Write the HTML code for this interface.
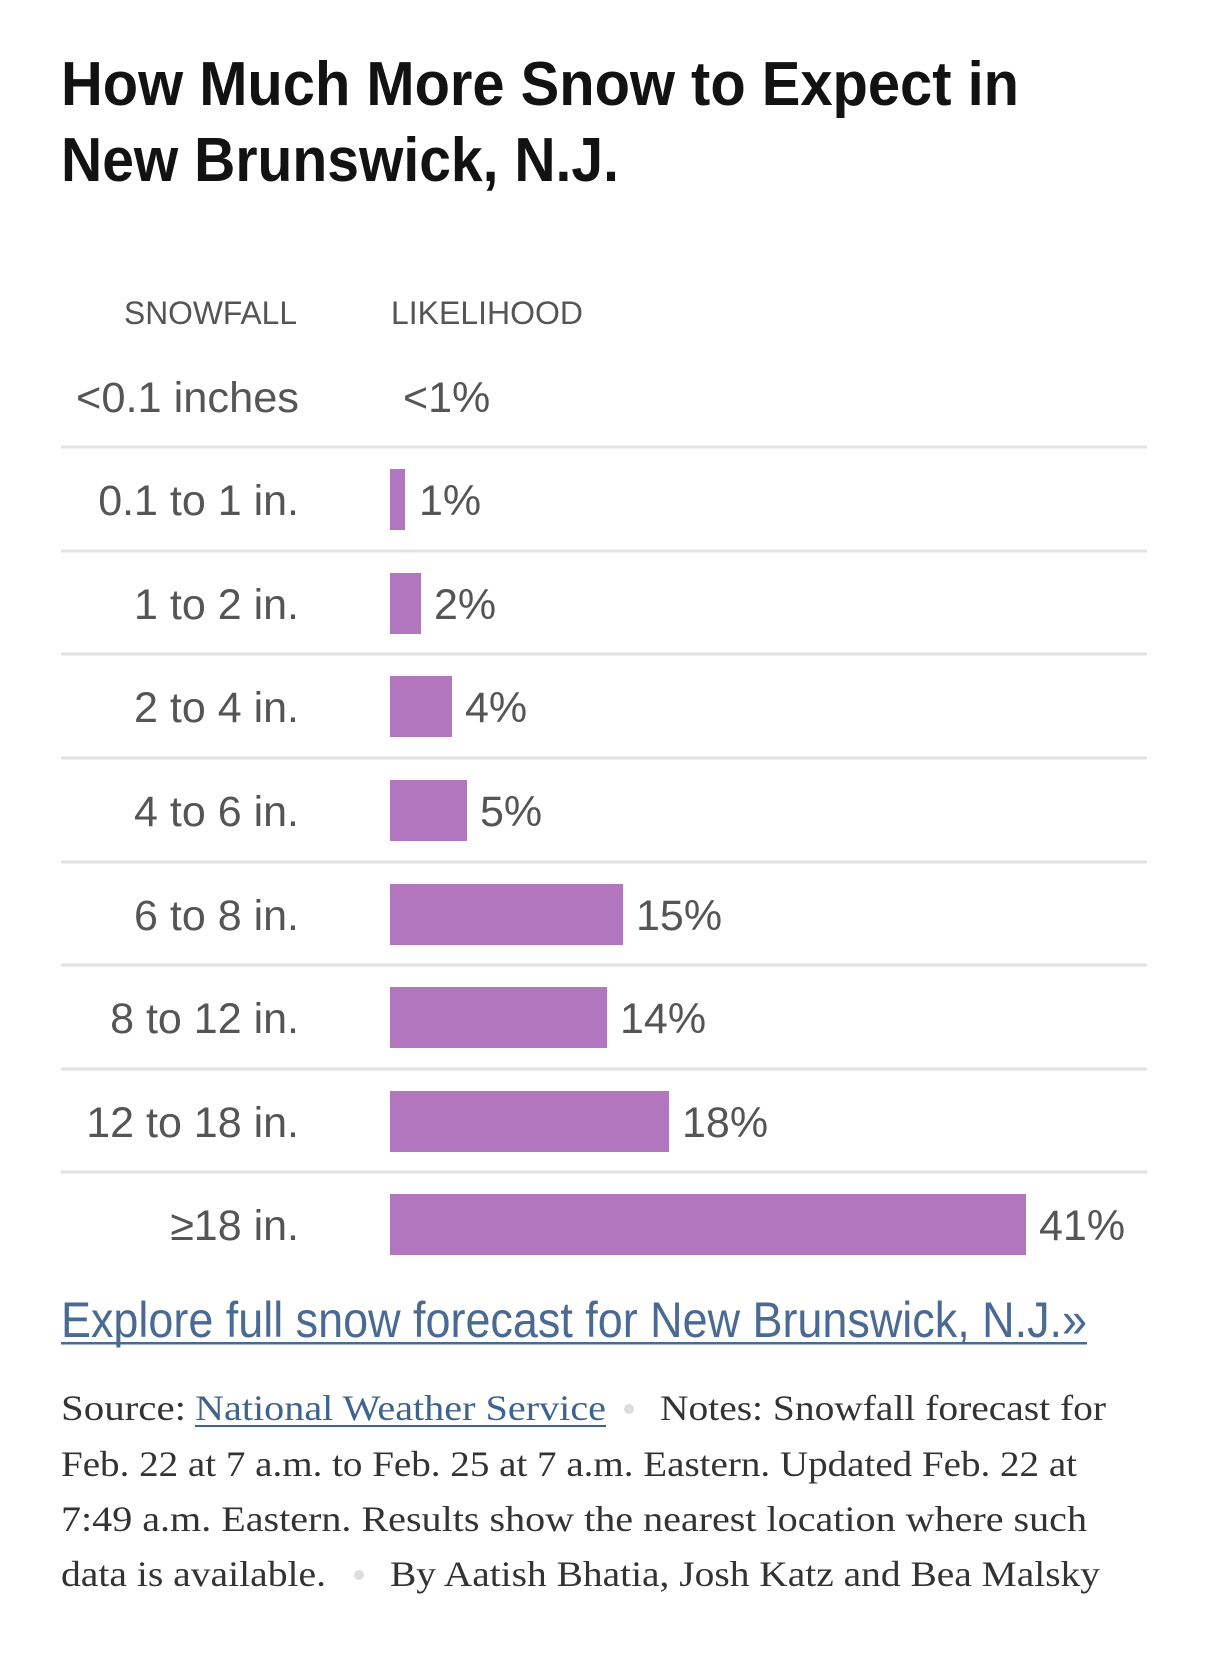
<!DOCTYPE html>
<html><head><meta charset="utf-8"><style>html,body{margin:0;padding:0;background:#fff}svg{display:block}</style></head>
<body>
<svg width="1206" height="1657" viewBox="0 0 1206 1657" xmlns="http://www.w3.org/2000/svg">
<rect width="1206" height="1657" fill="#fff"/>
<g font-family="Liberation Sans, Arial, sans-serif" font-weight="bold" font-size="62" fill="#121212">
<text x="61" y="105" textLength="958" lengthAdjust="spacingAndGlyphs">How Much More Snow to Expect in</text>
<text x="61" y="181" textLength="558" lengthAdjust="spacingAndGlyphs">New Brunswick, N.J.</text>
</g>
<g font-family="Liberation Sans, Arial, sans-serif" font-size="32" fill="#555">
<text x="124" y="324" textLength="173" lengthAdjust="spacingAndGlyphs">SNOWFALL</text>
<text x="391" y="324" textLength="192" lengthAdjust="spacingAndGlyphs">LIKELIHOOD</text>
</g>
<g stroke="#e2e2e2" stroke-width="3">
<line x1="61" x2="1147" y1="447" y2="447"/>
<line x1="61" x2="1147" y1="551" y2="551"/>
<line x1="61" x2="1147" y1="654" y2="654"/>
<line x1="61" x2="1147" y1="758" y2="758"/>
<line x1="61" x2="1147" y1="862" y2="862"/>
<line x1="61" x2="1147" y1="965" y2="965"/>
<line x1="61" x2="1147" y1="1069" y2="1069"/>
<line x1="61" x2="1147" y1="1172" y2="1172"/>
</g>
<g fill="#b276be">
<rect x="390" y="469" width="15" height="61"/>
<rect x="390" y="573" width="31" height="61"/>
<rect x="390" y="676" width="62" height="61"/>
<rect x="390" y="780" width="77" height="61"/>
<rect x="390" y="884" width="233" height="61"/>
<rect x="390" y="987" width="217" height="61"/>
<rect x="390" y="1091" width="279" height="61"/>
<rect x="390" y="1194" width="636" height="61"/>
</g>
<g font-family="Liberation Sans, Arial, sans-serif" font-size="43" fill="#555" text-anchor="end">
<text x="299" y="412" textLength="223" lengthAdjust="spacingAndGlyphs">&lt;0.1 inches</text>
<text x="299" y="515">0.1 to 1 in.</text>
<text x="299" y="619">1 to 2 in.</text>
<text x="299" y="722">2 to 4 in.</text>
<text x="299" y="826">4 to 6 in.</text>
<text x="299" y="930">6 to 8 in.</text>
<text x="299" y="1033">8 to 12 in.</text>
<text x="299" y="1137">12 to 18 in.</text>
<text x="299" y="1240">≥18 in.</text>
</g>
<g font-family="Liberation Sans, Arial, sans-serif" font-size="43" fill="#555">
<text x="403" y="412">&lt;1%</text>
<text x="419" y="515">1%</text>
<text x="434" y="619">2%</text>
<text x="465" y="722">4%</text>
<text x="480" y="826">5%</text>
<text x="636" y="930">15%</text>
<text x="620" y="1033">14%</text>
<text x="682" y="1137">18%</text>
<text x="1039" y="1240">41%</text>
</g>
<text x="61" y="1337" font-family="Liberation Sans, Arial, sans-serif" font-size="50" fill="#4a6a93" textLength="1026" lengthAdjust="spacingAndGlyphs">Explore full snow forecast for New Brunswick, N.J.»</text>
<rect x="61" y="1342" width="1026" height="2.5" fill="#4a6a93"/>
<g font-family="Liberation Serif, Times New Roman, serif" font-size="36" fill="#333">
<text x="61" y="1420" textLength="125" lengthAdjust="spacingAndGlyphs">Source:</text>
<text x="195" y="1420" fill="#3f6390" textLength="411" lengthAdjust="spacingAndGlyphs">National Weather Service</text>
<rect x="195" y="1425" width="411" height="2" fill="#3f6390"/>
<circle cx="629" cy="1409" r="5" fill="#ddd"/>
<text x="660" y="1420" textLength="446" lengthAdjust="spacingAndGlyphs">Notes: Snowfall forecast for</text>
<text x="61" y="1476" textLength="1016" lengthAdjust="spacingAndGlyphs">Feb. 22 at 7 a.m. to Feb. 25 at 7 a.m. Eastern. Updated Feb. 22 at</text>
<text x="61" y="1531" textLength="1026" lengthAdjust="spacingAndGlyphs">7:49 a.m. Eastern. Results show the nearest location where such</text>
<text x="61" y="1586" textLength="265" lengthAdjust="spacingAndGlyphs">data is available.</text>
<circle cx="359" cy="1575" r="5" fill="#ddd"/>
<text x="390" y="1586" textLength="710" lengthAdjust="spacingAndGlyphs">By Aatish Bhatia, Josh Katz and Bea Malsky</text>
</g>
</svg>
</body></html>
